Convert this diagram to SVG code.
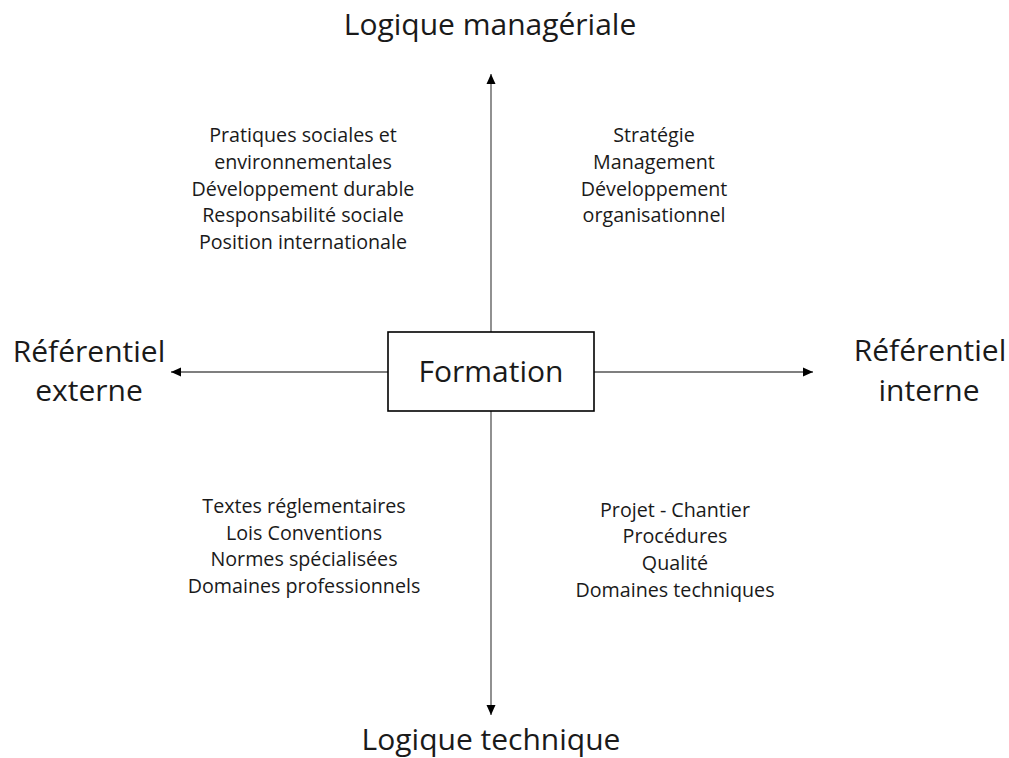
<svg xmlns="http://www.w3.org/2000/svg" width="1009" height="758" viewBox="0 0 1009 758">
<style>
text{font-family:"Open Sans","Noto Sans",sans-serif;fill:#1a1a1a;text-anchor:middle}
.t{font-size:30px}
.q{font-size:19.7px}
.ax{stroke:#555;stroke-width:1.3;fill:none}
</style>
<defs>
<marker id="ah" viewBox="0 0 10 10" refX="10" refY="5" markerWidth="10" markerHeight="10" markerUnits="userSpaceOnUse" orient="auto">
<path d="M0,0.5 L10,5 L0,9.5 z" fill="#000"/>
</marker>
</defs>
<rect width="1009" height="758" fill="#fff"/>
<g id="connectors">
<line class="ax" x1="491" y1="332" x2="491" y2="74" marker-end="url(#ah)"/>
<line class="ax" x1="491" y1="411" x2="491" y2="715" marker-end="url(#ah)"/>
<line class="ax" x1="388" y1="372" x2="171" y2="372" marker-end="url(#ah)"/>
<line class="ax" x1="594" y1="372" x2="813" y2="372" marker-end="url(#ah)"/>
</g>
<g id="formation">
<rect x="388" y="332" width="206" height="79" fill="#fff" stroke="#000" stroke-width="1.6"/>
<text class="t" x="491" y="382">Formation</text>
</g>
<g id="logique-manageriale"><text class="t" x="490" y="35">Logique managériale</text></g>
<g id="logique-technique"><text class="t" x="491" y="750">Logique technique</text></g>
<g id="referentiel-externe">
<text class="t" x="89" y="362">Référentiel</text>
<text class="t" x="89" y="401">externe</text>
</g>
<g id="referentiel-interne">
<text class="t" x="930" y="361">Référentiel</text>
<text class="t" x="929" y="401">interne</text>
</g>
<g id="q-top-left" class="q">
<text x="303" y="142">Pratiques sociales et</text>
<text x="303" y="169">environnementales</text>
<text x="303" y="196">Développement durable</text>
<text x="303" y="222">Responsabilité sociale</text>
<text x="303" y="249">Position internationale</text>
</g>
<g id="q-top-right" class="q">
<text x="654" y="142">Stratégie</text>
<text x="654" y="169">Management</text>
<text x="654" y="196">Développement</text>
<text x="654" y="222">organisationnel</text>
</g>
<g id="q-bottom-left" class="q">
<text x="304" y="513">Textes réglementaires</text>
<text x="304" y="540">Lois Conventions</text>
<text x="304" y="566">Normes spécialisées</text>
<text x="304" y="593">Domaines professionnels</text>
</g>
<g id="q-bottom-right" class="q">
<text x="675" y="517">Projet - Chantier</text>
<text x="675" y="543">Procédures</text>
<text x="675" y="570">Qualité</text>
<text x="675" y="597">Domaines techniques</text>
</g>
</svg>
